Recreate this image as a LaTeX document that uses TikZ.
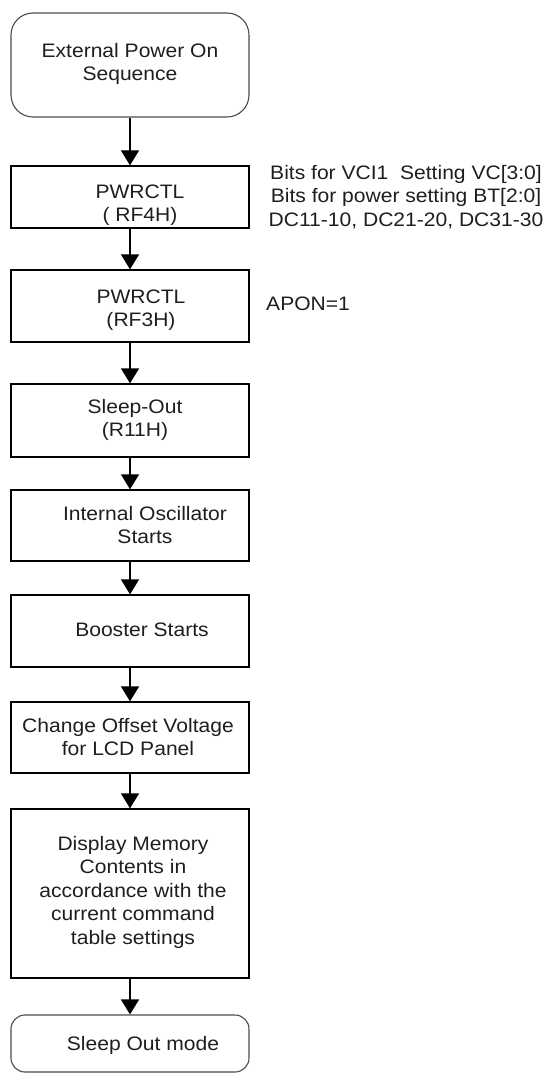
\documentclass[tikz,border=0pt]{standalone}
\usepackage{fontspec}
\setmainfont{Liberation Sans}[FakeStretch=1.08]
\usetikzlibrary{arrows.meta}
\definecolor{ink}{HTML}{1E1E1E}
\tikzset{
  box/.style={draw=black, line width=1.3pt, rectangle, minimum width=238pt, inner sep=0pt},
  rbox/.style={draw=black!70, line width=1.1pt, rectangle, minimum width=238pt, inner sep=0pt},
  txt/.style={text=ink, align=center, inner sep=0pt, font=\fontsize{19.5}{23.5}\selectfont},
  arr/.style={draw=black, line width=1.3pt, -{Triangle[width=18pt,length=15pt]}}
}
\begin{document}
\begin{tikzpicture}[x=1pt,y=1pt]
\useasboundingbox (0,0) rectangle (552,-1075);
% boxes
\node[rbox, rounded corners=22pt, minimum height=104pt] (top) at (130,-65) {};
\node[box, minimum height=62pt] (rf4) at (130,-197) {};
\node[box, minimum height=72pt] (rf3) at (130,-306) {};
\node[box, minimum height=73pt] (slp) at (130,-420.5) {};
\node[box, minimum height=71pt] (osc) at (130,-525.5) {};
\node[box, minimum height=72pt] (bst) at (130,-631) {};
\node[box, minimum height=71pt] (off) at (130,-737.5) {};
\node[box, minimum height=169pt] (dsp) at (130,-893.5) {};
\node[rbox, rounded corners=14pt, minimum height=57pt] (fin) at (130,-1043.5) {};
% texts
\node[txt] (topt) at (130,-64) {External Power On\\Sequence};
\node[txt] (rf4t) at (140,-205) {PWRCTL\\( RF4H)};
\node[txt] (rf3t) at (141,-310) {PWRCTL\\(RF3H)};
\node[txt] (slpt) at (135,-420) {Sleep-Out\\(R11H)};
\node[txt] (osct) at (145,-525) {Internal Oscillator\\Starts};
\node[txt] (bstt) at (142,-630) {Booster Starts};
\node[txt] (offt) at (128,-737) {Change Offset Voltage\\for LCD Panel};
\node[txt] (dspt) at (133,-892) {Display Memory\\Contents in\\accordance with the\\current command\\table settings};
\node[txt] (fint) at (143,-1045) {Sleep Out mode};
% side notes
\node[txt] (note1) at (406,-197) {Bits for VCI1\ \ Setting VC[3:0]\\Bits for power setting BT[2:0]\\DC11-10, DC21-20, DC31-30};
\node[txt, anchor=west] (note2) at (266,-304) {APON=1};
% arrows
\draw[arr] (top.south) -- (rf4.north);
\draw[arr] (rf4.south) -- (rf3.north);
\draw[arr] (rf3.south) -- (slp.north);
\draw[arr] (slp.south) -- (osc.north);
\draw[arr] (osc.south) -- (bst.north);
\draw[arr] (bst.south) -- (off.north);
\draw[arr] (off.south) -- (dsp.north);
\draw[arr] (dsp.south) -- (fin.north);
\end{tikzpicture}
\end{document}
